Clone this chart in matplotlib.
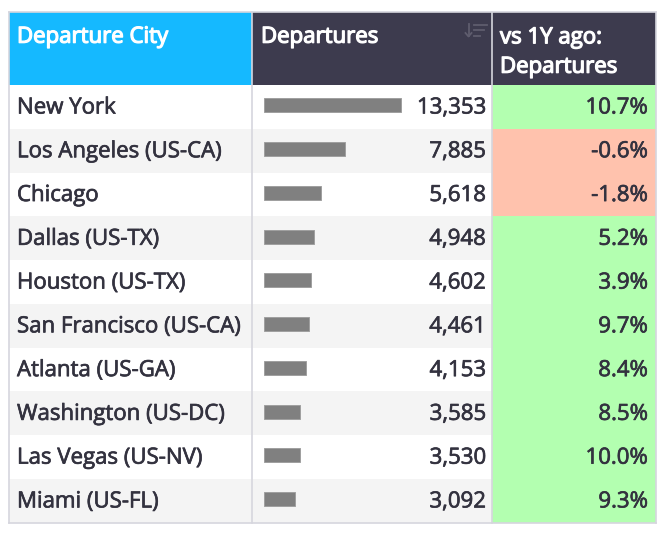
import matplotlib.pyplot as plt
from matplotlib.patches import Rectangle
import matplotlib.patheffects as pe

cities = ["New York", "Los Angeles (US-CA)", "Chicago", "Dallas (US-TX)",
          "Houston (US-TX)", "San Francisco (US-CA)", "Atlanta (US-GA)",
          "Washington (US-DC)", "Las Vegas (US-NV)", "Miami (US-FL)"]
departures = [13353, 7885, 5618, 4948, 4602, 4461, 4153, 3585, 3530, 3092]
change_pct = [10.7, -0.6, -1.8, 5.2, 3.9, 9.7, 8.4, 8.5, 10.0, 9.3]
headers = ["Departure City", "Departures", "vs 1Y ago:\nDepartures"]

plt.rcParams['font.family'] = ['Open Sans', 'DejaVu Sans']

W, H = 663, 534
fig = plt.figure(figsize=(W / 100, H / 100), dpi=100)
ax = fig.add_axes([0, 0, 1, 1])
ax.set_xlim(0, W)
ax.set_ylim(H, 0)
ax.axis('off')

# pixel layout
x0, x1, x2, x3 = 9, 252, 492, 656
top, head_bot = 12, 85
row_h = 43.77
txt = '#33323f'
border = '#d6d6de'
fs = 16

def bold(lw, col):
    return [pe.withStroke(linewidth=lw, foreground=col)]

# header
ax.add_patch(Rectangle((x0, top), x1 - x0, head_bot - top, fc='#15b9ff', ec='none'))
ax.add_patch(Rectangle((x1, top), x3 - x1, head_bot - top, fc='#3d3b4e', ec='none'))
hkw = dict(color='white', fontsize=fs, va='baseline', path_effects=bold(0.9, 'white'))
ax.text(x0 + 8, 42.7, headers[0], **hkw)
ax.text(x1 + 9, 42.7, headers[1], **hkw)
l1, l2 = headers[2].split('\n')
ax.text(x2 + 8, 43.3, l1, **hkw)
ax.text(x2 + 8, 72.7, l2, **hkw)

# sort icon
ic = '#5f5d6e'
ax.plot([468.5, 468.5], [24, 36], color=ic, lw=1.3)
ax.plot([465.5, 468.5, 471.5], [33, 36.5, 33], color=ic, lw=1.3)
for yy, ww in [(24.5, 13), (30, 10), (35.5, 6)]:
    ax.plot([473.5, 473.5 + ww], [yy, yy], color=ic, lw=1.3)

# rows
scale = (400.7 - 263.5) / max(departures)
bar_y = []
bkw = dict(color=txt, fontsize=fs, va='baseline', path_effects=bold(0.5, txt))
for i, (c, d, p) in enumerate(zip(cities, departures, change_pct)):
    y = head_bot + i * row_h
    bg = 'white' if i % 2 == 0 else '#f4f4f4'
    ax.add_patch(Rectangle((x0, y), x2 - x0, row_h, fc=bg, ec='none'))
    ax.add_patch(Rectangle((x2, y), x3 - x2, row_h,
                           fc='#b3ffb0' if p >= 0 else '#ffc2ad', ec='none'))
    base = y + 28.5
    bar_y.append(y + 20.3)
    ax.text(x0 + 8, base, c, **bkw)
    ax.text(486, base, f"{d:,}", ha='right', **bkw)
    ax.text(648, base, f"{p:.1f}%", ha='right', **bkw)

ax.barh(bar_y, [d * scale for d in departures], left=263.5, height=14,
        color='#808080', edgecolor='#a0a0a0', lw=0.7)

bottom = head_bot + len(cities) * row_h
# borders
for xx in [x0, x1, x2, x3]:
    ax.plot([xx, xx], [top, bottom], color=border, lw=1.2)
ax.plot([x0, x3], [top, top], color=border, lw=1.2)
ax.plot([x0, x3], [bottom, bottom], color=border, lw=1.2)

fig.savefig('out.png', dpi=100)
